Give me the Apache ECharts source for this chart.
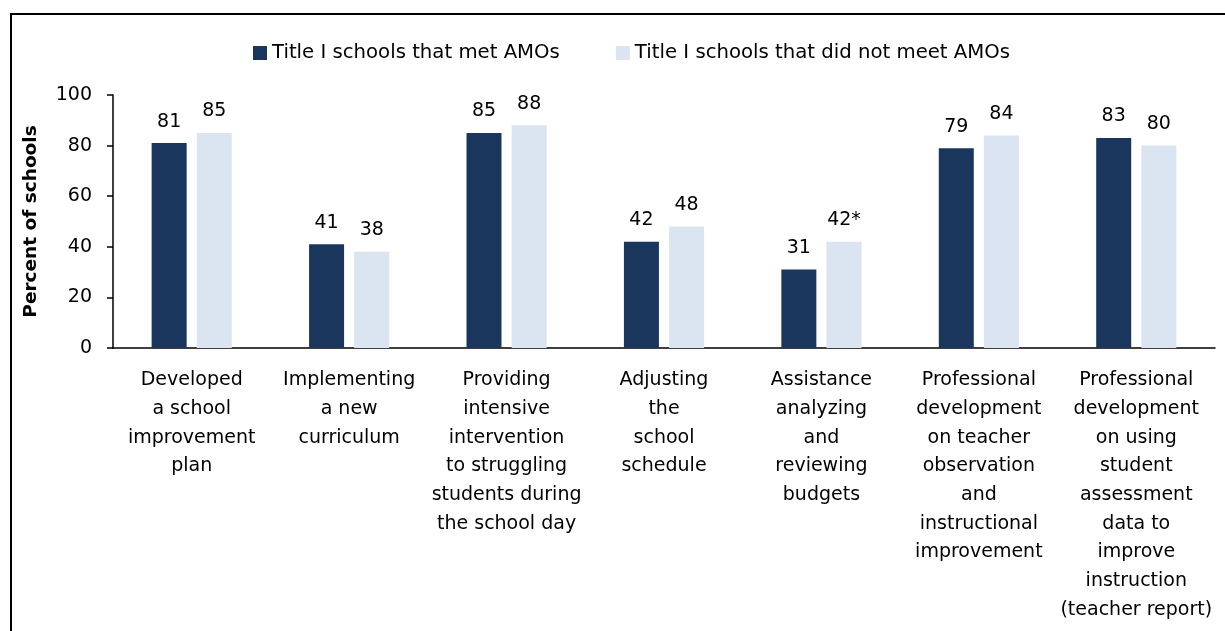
<!DOCTYPE html>
<html>
<head>
<meta charset="utf-8">
<script src="https://cdn.jsdelivr.net/npm/echarts@6/dist/echarts.min.js"></script>
<style>
  html, body { margin: 0; padding: 0; background: #fff; overflow: hidden; }
  #frame {
    position: absolute; left: 10px; top: 13px; width: 1300px; height: 700px;
    border-left: 2px solid #000; border-top: 2px solid #000;
  }
  #chart { position: absolute; left: 0; top: 0; width: 1225px; height: 631px; }
</style>
</head>
<body>
<div id="frame"></div>
<div id="chart"></div>
<script>
const categories = [
  'Developed\na school\nimprovement\nplan',
  'Implementing\na new\ncurriculum',
  'Providing\nintensive\nintervention\nto struggling\nstudents during\nthe school day',
  'Adjusting\nthe\nschool\nschedule',
  'Assistance\nanalyzing\nand\nreviewing\nbudgets',
  'Professional\ndevelopment\non teacher\nobservation\nand\ninstructional\nimprovement',
  'Professional\ndevelopment\non using\nstudent\nassessment\ndata to\nimprove\ninstruction\n(teacher report)'
]
const metValues = [81, 41, 85, 42, 31, 79, 83]
const notMetValues = [85, 38, 88, 48, 42, 84, 80]
// asterisk marks a significant difference
const notMetNotes = ['', '', '', '', '*', '', '']
const seriesNames = ['Title I schools that met AMOs', 'Title I schools that did not meet AMOs']

const font = 'DejaVu Sans'
const chart = echarts.init(document.getElementById('chart'))
const labelStyle = {
  show: true,
  position: 'top',
  distance: 12,
  color: '#000',
  fontSize: 19,
  fontFamily: font
}
const option = {
  animation: false,
  legend: {
    top: 38,
    left: 248,
    itemWidth: 14,
    itemHeight: 14,
    itemGap: 56,
    icon: 'rect',
    textStyle: { color: '#000', fontSize: 19.7, fontFamily: font },
    data: seriesNames
  },
  grid: { left: 113, right: 10, top: 95, bottom: 283, containLabel: false },
  xAxis: {
    type: 'category',
    data: categories,
    axisLine: { lineStyle: { color: '#000', width: 1.5 } },
    axisTick: { alignWithLabel: true, length: 6, lineStyle: { color: '#000', width: 1.5 } },
    axisLabel: {
      interval: 0,
      margin: 18,
      color: '#000',
      fontSize: 19,
      lineHeight: 28.7,
      fontFamily: font,
      align: 'center'
    }
  },
  yAxis: {
    type: 'value',
    min: 0,
    max: 100,
    interval: 20,
    name: 'Percent of schools',
    nameLocation: 'middle',
    nameGap: 72,
    nameRotate: 90,
    nameTextStyle: { color: '#000', fontSize: 18.5, fontWeight: 'bold', fontFamily: font },
    splitLine: { show: false },
    axisLine: { show: true, lineStyle: { color: '#000', width: 1.5 } },
    axisTick: { show: true, length: 6, lineStyle: { color: '#000', width: 1.5 } },
    axisLabel: { color: '#000', fontSize: 19, fontFamily: font, margin: 21 }
  },
  series: [
    {
      name: seriesNames[0],
      type: 'bar',
      data: metValues,
      barWidth: 35,
      barGap: '29%',
      itemStyle: { color: '#1a365d' },
      label: labelStyle
    },
    {
      name: seriesNames[1],
      type: 'bar',
      data: notMetValues,
      barWidth: 35,
      itemStyle: { color: '#dbe5f1' },
      label: Object.assign({}, labelStyle, {
        formatter: p => p.value + notMetNotes[p.dataIndex]
      })
    }
  ]
}
chart.setOption(option)
</script>
</body>
</html>
